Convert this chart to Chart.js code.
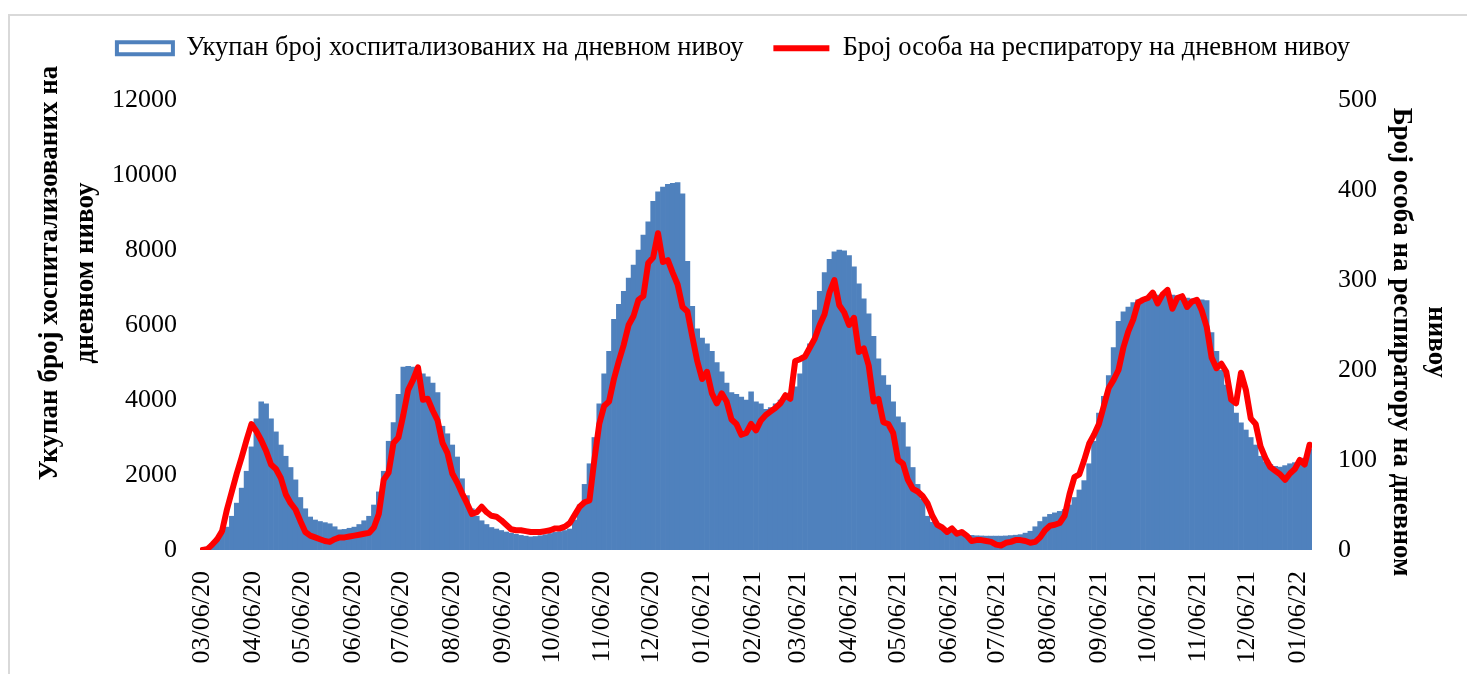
<!DOCTYPE html>
<html>
<head>
<meta charset="utf-8">
<script src="https://cdn.jsdelivr.net/npm/chart.js@4.4.0/dist/chart.umd.min.js"></script>
<style>
  html, body { margin: 0; padding: 0; background: #fff; overflow: hidden; }
  #wrap { width: 1467px; height: 674px; }
</style>
</head>
<body>
<div id="wrap"><canvas id="chartHospitalizacije" width="1467" height="674"></canvas></div>
<script>
// podaci, jedna vrednost na svaka 3 dana od 06.03.2020.
const startDate = Date.UTC(2020, 2, 6);
const stepDays = 3;

const hospitalizovani = [
  20, 80, 180, 320, 450, 610, 900, 1250, 1650, 2100,
  2750, 3500, 3950, 3900, 3500, 3150, 2800, 2500, 2200, 1870,
  1400, 1100, 880, 800, 760, 730, 700, 620, 540, 550,
  580, 610, 680, 780, 900, 1200, 1550, 2100, 2900, 3400,
  4150, 4880, 4900, 4880, 4820, 4700, 4620, 4450, 4200, 3300,
  3100, 2800, 2480, 1900, 1450, 1100, 900, 780, 680, 600,
  560, 520, 480, 450, 420, 390, 370, 350, 360, 380,
  410, 440, 470, 490, 520, 560, 800, 1200, 1750, 2300,
  3000, 3900, 4700, 5300, 6150, 6550, 6900, 7250, 7600, 8000,
  8400, 8750, 9300, 9550, 9680, 9750, 9780, 9800, 9500, 7700,
  6500, 5900, 5650, 5500, 5300, 5000, 4750, 4450, 4200, 4150,
  4080, 4000, 4220, 3950, 3900, 3750, 3800, 3900, 4000, 4100,
  4190, 4350, 4700, 5100, 5500, 6400, 6900, 7400, 7750, 7950,
  8000, 7980, 7850, 7550, 7100, 6700, 6300, 5700, 5100, 4650,
  4400, 3950, 3550, 3400, 2750, 2200, 1750, 1350, 900, 740,
  620, 550, 500, 470, 440, 420, 400, 390, 380, 375,
  370, 370, 370, 370, 375, 385, 395, 410, 450, 500,
  620, 760, 880, 950, 990, 1030, 1080, 1200, 1400, 1600,
  1850, 2300, 2900, 3650, 4100, 4650, 5400, 6100, 6350, 6480,
  6600, 6670, 6720, 6750, 6780, 6800, 6800, 6800, 6800, 6780,
  6760, 6720, 6700, 6680, 6670, 6650, 5800, 5300, 4800, 4400,
  4000, 3650, 3390, 3200, 3000, 2800, 2500, 2350, 2280, 2230,
  2210, 2250, 2300, 2330, 2380, 2450, 2700
];

const naRespiratoru = [
  0, 1, 6, 12, 21, 45, 65, 85, 103, 122,
  140, 132, 122, 110, 95, 90, 80, 62, 52, 45,
  32, 20, 16, 14, 12, 10, 9, 12, 14, 14,
  15, 16, 17, 18, 19, 25, 40, 78, 86, 119,
  125, 150, 178, 189, 203, 167, 168, 155, 144, 119,
  108, 85, 75, 63, 52, 40, 42, 48, 42, 38,
  37, 33, 28, 23, 22, 22, 21, 20, 20, 20,
  21, 22, 24, 24, 26, 30, 39, 48, 53, 55,
  100, 140, 160, 165, 190, 210, 228, 250, 260, 278,
  282, 319, 325, 352, 320, 322, 308, 295, 270, 265,
  237, 210, 190, 198, 174, 163, 174, 165, 145, 140,
  128, 130, 140, 133, 144, 150, 154, 158, 163, 172,
  168, 210, 212, 215, 225, 235, 250, 262, 286, 300,
  272, 264, 250, 258, 220, 224, 205, 165, 168, 142,
  140, 130, 100, 96, 78, 68, 65, 60, 52, 38,
  28, 25, 20, 24, 18, 20, 16, 10, 11, 11,
  10, 9, 6, 5, 8, 9, 11, 11, 10, 8,
  9, 14, 22, 27, 28, 30, 38, 62, 81, 84,
  100, 118, 128, 140, 160, 180, 189, 200, 225, 243,
  256, 275, 278, 280, 286, 274, 284, 289, 268, 280,
  282, 270, 276, 278, 266, 248, 214, 202, 207, 198,
  167, 163, 197, 178, 146, 140, 115, 102, 92, 88,
  84, 78, 85, 90, 100, 95, 117
];

const tickLabels = [
  '03/06/20', '04/06/20', '05/06/20', '06/06/20', '07/06/20', '08/06/20',
  '09/06/20', '10/06/20', '11/06/20', '12/06/20', '01/06/21', '02/06/21',
  '03/06/21', '04/06/21', '05/06/21', '06/06/21', '07/06/21', '08/06/21',
  '09/06/21', '10/06/21', '11/06/21', '12/06/21', '01/06/22'
];

const seriesLabels = [
  'Укупан број хоспитализованих на дневном нивоу',
  'Број особа на респиратору на дневном нивоу'
];
const leftTitle = ['Укупан број хоспитализованих на', 'дневном нивоу'];
const rightTitle = ['Број особа на респиратору на дневном', 'нивоу'];

// MM/DD/YY -> broj dana od pocetka
const tickDays = tickLabels.map(l => {
  const [mm, dd, yy] = l.split('/').map(Number);
  return Math.round((Date.UTC(2000 + yy, mm - 1, dd) - startDate) / 86400000);
});

const hospPoints = hospitalizovani.map((v, i) => ({ x: i * stepDays, y: v }));
const respPoints = naRespiratoru.map((v, i) => ({ x: i * stepDays, y: v }));

Chart.defaults.font.family = '"Liberation Serif", "Times New Roman", serif';
Chart.defaults.color = '#000';

const legendHeight = {
  id: 'legendHeight',
  beforeInit(chart) {
    const fit = chart.legend.fit;
    chart.legend.fit = function () {
      fit.bind(chart.legend)();
      this.height = 95;
    };
  }
};

const okvir = {
  id: 'okvir',
  beforeDraw(chart) {
    const ctx = chart.ctx;
    ctx.save();
    ctx.fillStyle = '#fff';
    ctx.fillRect(0, 0, chart.width, chart.height);
    ctx.strokeStyle = '#d9d9d9';
    ctx.lineWidth = 2;
    ctx.strokeRect(9, 15, chart.width + 20, chart.height + 20);
    ctx.restore();
  }
};

const naslovi = {
  id: 'naslovi',
  afterDraw(chart) {
    const ctx = chart.ctx;
    const area = chart.chartArea;
    ctx.save();
    ctx.font = 'bold 27px "Liberation Serif"';
    ctx.fillStyle = '#000';
    ctx.textAlign = 'center';
    ctx.textBaseline = 'middle';
    leftTitle.forEach((line, i) => {
      ctx.save();
      ctx.translate(area.left - 150 + i * 36, area.top + 173);
      ctx.rotate(-Math.PI / 2);
      ctx.fillText(line, 0, 0);
      ctx.restore();
    });
    rightTitle.forEach((line, i) => {
      ctx.save();
      ctx.translate(area.right + 89 + i * 35, area.top + 242);
      ctx.rotate(Math.PI / 2);
      ctx.fillText(line, 0, 0);
      ctx.restore();
    });
    ctx.restore();
  }
};

const canvas = document.getElementById('chartHospitalizacije');
const context = canvas.getContext('2d');

const chartHospitalizacije = new Chart(context, {
  type: 'bar',
  data: {
    datasets: [
      {
        type: 'bar',
        label: seriesLabels[0],
        data: hospPoints,
        backgroundColor: '#4f81bd',
        borderWidth: 0,
        barPercentage: 1,
        categoryPercentage: 1,
        yAxisID: 'y',
        order: 2
      },
      {
        type: 'line',
        label: seriesLabels[1],
        data: respPoints,
        borderColor: '#ff0000',
        backgroundColor: '#ff0000',
        borderWidth: 6,
        pointRadius: 0,
        tension: 0,
        borderJoinStyle: 'round',
        borderCapStyle: 'round',
        yAxisID: 'y1',
        order: 1
      }
    ]
  },
  options: {
    responsive: false,
    animation: false,
    devicePixelRatio: 1,
    layout: { padding: { top: 5, left: 0, right: 0, bottom: 0 } },
    plugins: {
      tooltip: { enabled: false },
      legend: {
        position: 'top',
        labels: {
          usePointStyle: true,
          pointStyleWidth: 56,
          boxHeight: 12,
          padding: 30,
          color: '#000',
          font: { size: 26.5 },
          sort: (a, b) => a.datasetIndex - b.datasetIndex,
          generateLabels: (chart) => {
            const items = Chart.defaults.plugins.legend.labels.generateLabels(chart);
            items.forEach(item => {
              if (item.datasetIndex === 0) {
                item.pointStyle = 'rect';
                item.fillStyle = '#fff';
                item.strokeStyle = '#4f81bd';
                item.lineWidth = 4;
              } else {
                item.pointStyle = 'line';
                item.strokeStyle = '#ff0000';
                item.lineWidth = 6;
              }
            });
            return items;
          }
        }
      }
    },
    scales: {
      x: {
        type: 'linear',
        min: -1.5,
        max: 679.5,
        offset: false,
        grid: { display: false },
        border: { display: false },
        afterBuildTicks: (scale) => {
          scale.ticks = tickDays.map(v => ({ value: v }));
        },
        afterFit: (scale) => { scale.height = 124; },
        ticks: {
          autoSkip: false,
          minRotation: 90,
          maxRotation: 90,
          padding: 13,
          font: { size: 26 },
          callback: (value, index) => tickLabels[index]
        }
      },
      y: {
        position: 'left',
        min: 0,
        max: 12000,
        grid: { display: false },
        border: { display: false },
        afterFit: (scale) => { scale.width = 200; },
        ticks: {
          stepSize: 2000,
          padding: 15,
          font: { size: 26 },
          callback: (value) => String(value)
        }
      },
      y1: {
        position: 'right',
        min: 0,
        max: 500,
        grid: { display: false },
        border: { display: false },
        afterFit: (scale) => { scale.width = 155; },
        ticks: {
          stepSize: 100,
          padding: 18,
          font: { size: 26 },
          callback: (value) => String(value)
        }
      }
    }
  },
  plugins: [legendHeight, okvir, naslovi]
});
</script>
</body>
</html>
